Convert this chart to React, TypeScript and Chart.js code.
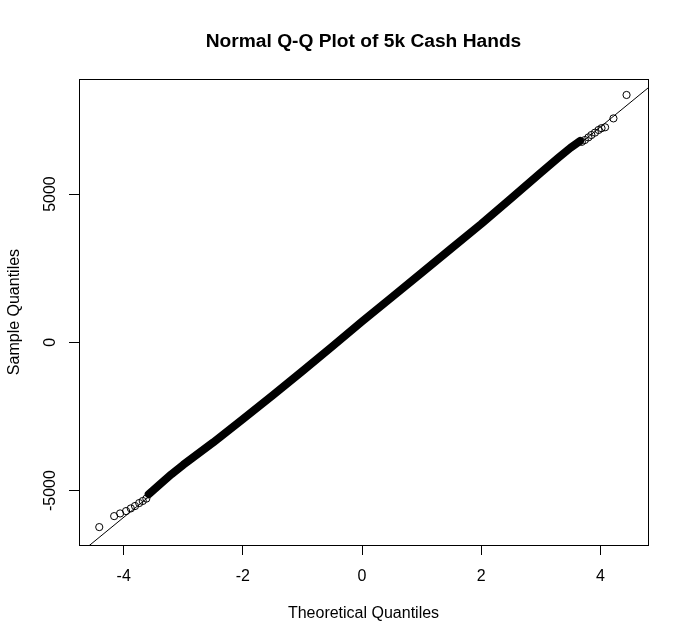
import React, { useEffect, useRef } from "react";
import { Chart, registerables } from "chart.js";

Chart.register(...registerables);

// ---- text ----
const TITLE = "Normal Q-Q Plot of 5k Cash Hands";
const X_LABEL = "Theoretical Quantiles";
const Y_LABEL = "Sample Quantiles";

// ---- axes ----
const X_TICKS = [-4, -2, 0, 2, 4];
const Y_TICKS = [-5000, 0, 5000];
const X_MIN = -4.75;
const X_MAX = 4.8;
const Y_MIN = -6834;
const Y_MAX = 8877;

// ---- data ----
// dense central part of the sample (theoretical quantile, sample quantile)
const bandT = [-3.58, -3.4, -3.2, -3.0, -2.5, -2.0, -1.5, -1.0, -0.5, 0.0, 0.5, 1.0, 1.5, 2.0, 2.5, 3.0, 3.3, 3.5, 3.66];
const bandS = [-5120, -4800, -4450, -4130, -3380, -2590, -1790, -970, -140, 700, 1520, 2340, 3170, 3990, 4850, 5720, 6230, 6560, 6790];

// separate points in the lower tail
const lowTailT = [-4.41, -4.16, -4.06, -3.96, -3.88, -3.81, -3.74, -3.68, -3.62];
const lowTailS = [-6230, -5860, -5770, -5690, -5600, -5520, -5420, -5350, -5270];

// separate points in the upper tail
const highTailT = [3.69, 3.74, 3.8, 3.85, 3.91, 3.97, 4.02, 4.08, 4.22, 4.44];
const highTailS = [6760, 6820, 6910, 6990, 7070, 7160, 7220, 7250, 7550, 8340];

// reference (qqline) end points
const qqLineT = [-4.75, 4.8];
const qqLineS = [-7135, 8575];

const FONT_FAMILY = '"Liberation Sans", Arial, Helvetica, sans-serif';

const toPts = (xs: number[], ys: number[]) => xs.map((x, i) => ({ x, y: ys[i] }));

const boxPlugin = {
  id: "rbox",
  afterDraw(chart: any) {
    const { ctx, chartArea: a } = chart;
    ctx.save();
    ctx.strokeStyle = "#000";
    ctx.lineWidth = 1;
    const l = Math.round(a.left) + 0.5;
    const t = Math.round(a.top) + 0.5;
    const r = Math.round(a.right) + 0.5;
    const b = Math.round(a.bottom) + 0.5;
    ctx.strokeRect(l, t, r - l, b - t);
    ctx.restore();
  },
};

export default function App() {
  const ref = useRef<HTMLCanvasElement | null>(null);

  useEffect(() => {
    document.body.style.margin = "0";
    const canvas = ref.current;
    if (!canvas) return;
    const font = { family: FONT_FAMILY, size: 16 };
    const chart = new Chart(canvas, {
      type: "scatter",
      data: {
        datasets: [
          {
            type: "line",
            data: toPts(qqLineT, qqLineS),
            borderColor: "#000",
            borderWidth: 1,
            pointRadius: 0,
            fill: false,
          } as any,
          {
            type: "scatter",
            data: [...toPts(lowTailT, lowTailS), ...toPts(highTailT, highTailS)],
            pointStyle: "circle",
            pointRadius: 3.6,
            pointBorderWidth: 1,
            pointBorderColor: "#000",
            pointBackgroundColor: "rgba(0,0,0,0)",
            showLine: false,
          } as any,
          {
            type: "line",
            data: toPts(bandT, bandS),
            borderColor: "#000",
            borderWidth: 8,
            borderCapStyle: "round",
            borderJoinStyle: "round",
            pointRadius: 0,
            fill: false,
            tension: 0,
          } as any,
        ],
      },
      options: {
        responsive: false,
        animation: false,
        events: [],
        layout: { padding: { left: 0, right: 41, top: 0, bottom: 0 } },
        plugins: {
          legend: { display: false },
          tooltip: { enabled: false },
          title: {
            display: true,
            text: TITLE,
            fullSize: false,
            color: "#000",
            font: { family: FONT_FAMILY, size: 19.2, weight: "bold" },
            padding: { top: 30.5, bottom: 25.5 },
          },
        },
        scales: {
          x: {
            type: "linear",
            min: X_MIN,
            max: X_MAX,
            afterBuildTicks: (s: any) => {
              s.ticks = X_TICKS.map((v) => ({ value: v }));
            },
            afterFit: (s: any) => {
              s.height = 98;
            },
            ticks: {
              color: "#000",
              font,
              padding: 12.4,
              autoSkip: false,
              maxRotation: 0,
              callback: (v: any) => String(v),
            },
            grid: {
              display: true,
              drawOnChartArea: false,
              drawTicks: true,
              tickLength: 10,
              color: "#000",
            },
            border: { display: true, color: "#000" },
            title: {
              display: true,
              text: X_LABEL,
              color: "#000",
              font,
              padding: { top: 0, bottom: 19.4 },
            },
          },
          y: {
            type: "linear",
            min: Y_MIN,
            max: Y_MAX,
            afterBuildTicks: (s: any) => {
              s.ticks = Y_TICKS.map((v) => ({ value: v }));
            },
            afterFit: (s: any) => {
              s.width = 79;
            },
            ticks: {
              color: "#000",
              font,
              padding: -2,
              autoSkip: false,
              minRotation: 90,
              maxRotation: 90,
              crossAlign: "center",
              callback: (v: any) => String(v),
            },
            grid: {
              display: true,
              drawOnChartArea: false,
              drawTicks: true,
              tickLength: 10,
              color: "#000",
            },
            border: { display: true, color: "#000" },
            title: {
              display: true,
              text: Y_LABEL,
              color: "#000",
              font,
              padding: { top: 5.4, bottom: 0 },
            },
          },
        },
      } as any,
      plugins: [boxPlugin],
    });
    return () => chart.destroy();
  }, []);

  return (
    <div style={{ position: "fixed", left: 0, top: 0, width: 689, height: 643, background: "#fff" }}>
      <canvas ref={ref} width={689} height={643} style={{ display: "block" }} />
    </div>
  );
}
